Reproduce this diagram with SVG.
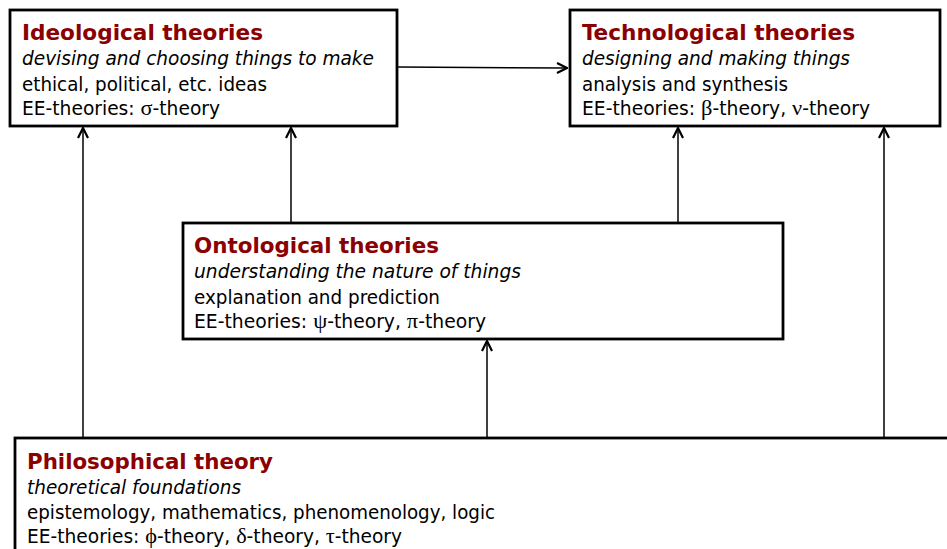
<svg xmlns="http://www.w3.org/2000/svg" width="947" height="549" viewBox="0 0 947 549">
<defs>
<style>
.box{fill:#fff;stroke:#000;stroke-width:2.8}
text{font-family:"DejaVu Sans Condensed","DejaVu Sans",sans-serif;font-size:19.5px;fill:#000}
.t{font-weight:bold;fill:#8B0000;font-size:21px}
.i{font-style:italic}
.g{font-family:"Liberation Serif","DejaVu Serif",serif;font-size:21px}
.c{stroke:#000;stroke-width:1.5;fill:none}
</style>
<marker id="ah" viewBox="0 0 12 12" refX="11" refY="6" markerWidth="12" markerHeight="12" markerUnits="userSpaceOnUse" orient="auto">
<path d="M1,1 L11,6 L1,11" fill="none" stroke="#000" stroke-width="2.2"/>
</marker>
</defs>
<g id="connectors">
<line class="c" x1="398" y1="67" x2="567" y2="68" marker-end="url(#ah)"/>
<line class="c" x1="83" y1="437" x2="83" y2="128" marker-end="url(#ah)"/>
<line class="c" x1="291" y1="222" x2="291" y2="128" marker-end="url(#ah)"/>
<line class="c" x1="678" y1="222" x2="678" y2="128" marker-end="url(#ah)"/>
<line class="c" x1="487" y1="437" x2="487" y2="341" marker-end="url(#ah)"/>
<line class="c" x1="884" y1="437" x2="884" y2="128" marker-end="url(#ah)"/>
</g>
<g id="ideological">
<rect class="box" x="10" y="10" width="387" height="116"/>
<text class="t" x="22" y="40" textLength="241" lengthAdjust="spacingAndGlyphs">Ideological theories</text>
<text class="i" x="22" y="65" textLength="352" lengthAdjust="spacingAndGlyphs">devising and choosing things to make</text>
<text x="22" y="91" textLength="245" lengthAdjust="spacingAndGlyphs">ethical, political, etc. ideas</text>
<text x="22" y="115" textLength="198" lengthAdjust="spacingAndGlyphs">EE-theories: <tspan class="g">σ</tspan>-theory</text>
</g>
<g id="technological">
<rect class="box" x="570" y="10" width="370" height="116"/>
<text class="t" x="582" y="40" textLength="273" lengthAdjust="spacingAndGlyphs">Technological theories</text>
<text class="i" x="582" y="65" textLength="268" lengthAdjust="spacingAndGlyphs">designing and making things</text>
<text x="582" y="91" textLength="206" lengthAdjust="spacingAndGlyphs">analysis and synthesis</text>
<text x="582" y="115" textLength="288" lengthAdjust="spacingAndGlyphs">EE-theories: <tspan class="g">β</tspan>-theory, <tspan class="g">ν</tspan>-theory</text>
</g>
<g id="ontological">
<rect class="box" x="183" y="223" width="600" height="116"/>
<text class="t" x="194" y="253" textLength="245" lengthAdjust="spacingAndGlyphs">Ontological theories</text>
<text class="i" x="194" y="278" textLength="327" lengthAdjust="spacingAndGlyphs">understanding the nature of things</text>
<text x="194" y="304" textLength="246" lengthAdjust="spacingAndGlyphs">explanation and prediction</text>
<text x="194" y="328" textLength="292" lengthAdjust="spacingAndGlyphs">EE-theories: <tspan class="g">ψ</tspan>-theory, <tspan class="g">π</tspan>-theory</text>
</g>
<g id="philosophical">
<rect class="box" x="15" y="438" width="945" height="130"/>
<text class="t" x="27" y="469" textLength="246" lengthAdjust="spacingAndGlyphs">Philosophical theory</text>
<text class="i" x="27" y="494" textLength="214" lengthAdjust="spacingAndGlyphs">theoretical foundations</text>
<text x="27" y="519" textLength="468" lengthAdjust="spacingAndGlyphs">epistemology, mathematics, phenomenology, logic</text>
<text x="27" y="543" textLength="375" lengthAdjust="spacingAndGlyphs">EE-theories: <tspan class="g">ϕ</tspan>-theory, <tspan class="g">δ</tspan>-theory, <tspan class="g">τ</tspan>-theory</text>
</g>
</svg>
